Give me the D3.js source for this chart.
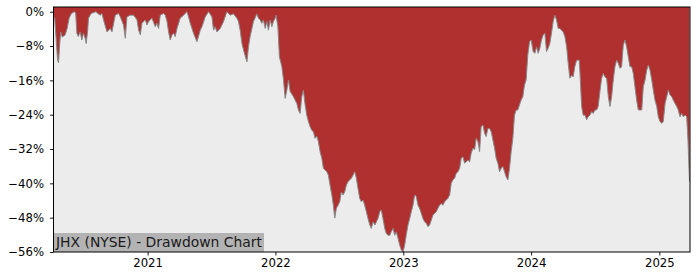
<!DOCTYPE html>
<html>
<head>
<meta charset="utf-8">
<script src="https://cdn.jsdelivr.net/npm/d3@7"></script>
<style>
  body { margin: 0; background: #fff; }
  text { font-family: "DejaVu Sans", sans-serif; }
</style>
</head>
<body>
<div id="chart"></div>
<script>
// JHX (NYSE) drawdown
// dates kept as decimal years, drawdown in percent
var timeline = [
  2020.266, 2020.275, 2020.287, 2020.298, 2020.305, 2020.314, 2020.322, 2020.334, 2020.357, 2020.373,
  2020.388, 2020.404, 2020.427, 2020.439, 2020.448, 2020.459, 2020.474, 2020.487, 2020.500, 2020.513,
  2020.521, 2020.533, 2020.539, 2020.560, 2020.597, 2020.615, 2020.630, 2020.644, 2020.656, 2020.683,
  2020.709, 2020.722, 2020.748, 2020.773, 2020.787, 2020.812, 2020.826, 2020.839, 2020.865, 2020.891,
  2020.917, 2020.930, 2020.943, 2020.956, 2020.982, 2020.995, 2021.008, 2021.034, 2021.060, 2021.073,
  2021.086, 2021.099, 2021.125, 2021.138, 2021.152, 2021.164, 2021.177, 2021.191, 2021.203, 2021.216,
  2021.230, 2021.255, 2021.281, 2021.308, 2021.320, 2021.334, 2021.359, 2021.386, 2021.412, 2021.425,
  2021.451, 2021.477, 2021.503, 2021.516, 2021.529, 2021.542, 2021.568, 2021.594, 2021.620, 2021.646,
  2021.672, 2021.698, 2021.711, 2021.724, 2021.738, 2021.750, 2021.777, 2021.789, 2021.802, 2021.828,
  2021.855, 2021.867, 2021.880, 2021.894, 2021.906, 2021.920, 2021.933, 2021.945, 2021.959, 2021.972,
  2021.984, 2021.998, 2022.005, 2022.019, 2022.031, 2022.050, 2022.063, 2022.076, 2022.089, 2022.102,
  2022.115, 2022.141, 2022.167, 2022.180, 2022.193, 2022.206, 2022.219, 2022.232, 2022.245, 2022.258,
  2022.271, 2022.284, 2022.297, 2022.310, 2022.323, 2022.336, 2022.349, 2022.363, 2022.375, 2022.402,
  2022.414, 2022.427, 2022.441, 2022.453, 2022.464, 2022.477, 2022.490, 2022.503, 2022.516, 2022.529,
  2022.542, 2022.555, 2022.568, 2022.594, 2022.607, 2022.620, 2022.633, 2022.646, 2022.659, 2022.672,
  2022.685, 2022.698, 2022.711, 2022.724, 2022.738, 2022.750, 2022.763, 2022.779, 2022.789, 2022.802,
  2022.816, 2022.828, 2022.841, 2022.855, 2022.867, 2022.880, 2022.894, 2022.906, 2022.920, 2022.933,
  2022.945, 2022.959, 2022.972, 2022.984, 2022.998, 2023.011, 2023.023, 2023.037, 2023.050, 2023.063,
  2023.076, 2023.089, 2023.102, 2023.115, 2023.127, 2023.141, 2023.154, 2023.167, 2023.180, 2023.193,
  2023.206, 2023.219, 2023.232, 2023.245, 2023.258, 2023.271, 2023.284, 2023.297, 2023.310, 2023.323,
  2023.336, 2023.349, 2023.363, 2023.375, 2023.388, 2023.402, 2023.414, 2023.427, 2023.441, 2023.453,
  2023.466, 2023.480, 2023.492, 2023.505, 2023.519, 2023.531, 2023.545, 2023.558, 2023.570, 2023.584,
  2023.597, 2023.609, 2023.623, 2023.636, 2023.648, 2023.662, 2023.675, 2023.688, 2023.701, 2023.714,
  2023.727, 2023.740, 2023.753, 2023.766, 2023.779, 2023.792, 2023.805, 2023.818, 2023.831, 2023.844,
  2023.857, 2023.870, 2023.883, 2023.896, 2023.909, 2023.922, 2023.935, 2023.948, 2023.961, 2023.974,
  2023.988, 2024.000, 2024.016, 2024.029, 2024.042, 2024.055, 2024.068, 2024.081, 2024.094, 2024.107,
  2024.120, 2024.133, 2024.146, 2024.159, 2024.172, 2024.185, 2024.198, 2024.211, 2024.224, 2024.250,
  2024.263, 2024.277, 2024.289, 2024.302, 2024.316, 2024.328, 2024.341, 2024.355, 2024.375, 2024.380,
  2024.394, 2024.406, 2024.420, 2024.433, 2024.445, 2024.459, 2024.472, 2024.484, 2024.498, 2024.511,
  2024.523, 2024.537, 2024.550, 2024.563, 2024.576, 2024.589, 2024.602, 2024.615, 2024.628, 2024.641,
  2024.654, 2024.667, 2024.680, 2024.693, 2024.706, 2024.719, 2024.732, 2024.745, 2024.758, 2024.771,
  2024.784, 2024.797, 2024.810, 2024.823, 2024.836, 2024.863, 2024.875, 2024.889, 2024.902, 2024.914,
  2024.927, 2024.941, 2024.953, 2024.966, 2024.980, 2024.992, 2025.005, 2025.019, 2025.031, 2025.045,
  2025.058, 2025.070, 2025.084, 2025.097, 2025.109, 2025.123, 2025.136, 2025.148, 2025.162, 2025.175,
  2025.188, 2025.201, 2025.214, 2025.224, 2025.236
];

var drawdown = [
  -1.2, -1.5, -6.6, -11.3, -11.9, -7.8, -4.7, -5.9, -5.4, -3.8,
  -1.5, -0.5, 0, -0.3, -5.0, -5.8, -4.7, -6.6, -5.0, -6.2,
  -7.4, -4.3, -1.5, -0.4, 0, -0.5, -0.8, -0.4, -1.9, -4.7,
  -3.9, -4.7, -0.8, -0.4, -1.2, -3.1, -6.2, -1.2, -0.8, -0.8,
  -1.9, -4.3, -5.4, -2.7, -1.9, -3.1, -2.3, -1.5, -3.5, -2.7,
  -3.9, -0.8, -0.4, -0.8, -2.3, -4.7, -6.6, -5.4, -5.0, -5.8,
  -3.9, -1.5, -0.8, 0, -1.2, -2.7, -5.0, -7.0, -4.3, -3.5,
  -1.2, 0, -1.2, -4.3, -3.5, -4.7, -3.9, -2.3, 0, -0.8,
  -0.5, -1.5, -2.3, -4.3, -7.4, -8.9, -11.7, -8.2, -5.8, -2.3,
  -0.5, -1.5, -1.9, -2.7, -1.9, -3.9, -2.3, -4.3, -1.9, -3.5,
  -2.3, -1.5, -0.8, -3.5, -10.5, -12.8, -15.9, -20.2, -18.3, -15.9,
  -18.6, -19.8, -21.4, -22.9, -23.7, -19.8, -18.3, -21.7, -24.1, -25.6,
  -26.8, -27.6, -28.0, -29.5, -29.0, -30.3, -32.6, -34.2, -36.5, -37.3,
  -38.1, -40.4, -42.7, -45.1, -48.1, -45.8, -45.1, -44.3, -42.0, -42.7,
  -42.0, -40.4, -39.6, -38.8, -38.1, -37.3, -38.8, -41.2, -43.5, -44.3,
  -43.9, -45.1, -46.6, -48.2, -49.7, -50.5, -49.0, -49.7, -49.0, -48.2,
  -46.6, -46.2, -48.2, -50.5, -51.7, -52.1, -52.1, -51.3, -50.5, -52.1,
  -51.3, -52.8, -54.4, -55.5, -56.0, -54.4, -52.1, -49.7, -48.2, -46.6,
  -45.1, -42.7, -43.1, -45.1, -45.8, -47.0, -48.2, -49.0, -49.3, -50.1,
  -49.7, -48.6, -47.4, -47.0, -46.6, -45.8, -45.1, -44.7, -45.1, -44.3,
  -43.9, -43.5, -42.7, -40.0, -39.2, -38.8, -37.7, -37.3, -36.5, -34.2,
  -33.8, -35.3, -35.0, -34.6, -35.0, -33.0, -31.8, -32.2, -29.5, -30.3,
  -32.6, -26.8, -26.4, -28.3, -29.1, -27.2, -27.2, -28.0, -29.9, -31.8,
  -34.2, -35.3, -37.3, -36.5, -36.1, -37.3, -38.5, -39.2, -36.5, -32.6,
  -29.5, -24.1, -22.9, -22.9, -21.7, -20.6, -19.8, -17.1, -15.9, -10.1,
  -7.0, -6.6, -9.3, -9.7, -8.2, -9.7, -8.5, -6.6, -5.4, -5.0,
  -9.3, -8.5, -7.4, -5.0, -2.3, -0.8, -1.9, -3.9, -3.9, -4.7,
  -5.8, -8.2, -12.0, -15.5, -14.8, -15.2, -12.8, -11.3, -11.3, -13.6,
  -22.1, -24.1, -24.1, -25.2, -24.5, -24.1, -23.3, -23.7, -22.9, -22.9,
  -22.1, -18.6, -15.5, -14.4, -15.2, -15.5, -19.8, -22.1, -19.8, -15.9,
  -12.8, -11.3, -12.0, -13.2, -12.8, -7.8, -6.6, -8.2, -10.5, -12.8,
  -12.8, -14.4, -17.5, -20.6, -22.9, -22.9, -17.5, -15.9, -13.6, -12.4,
  -13.6, -15.9, -18.3, -20.6, -22.1, -24.5, -25.6, -26.0, -25.6, -21.4,
  -19.8, -18.3, -19.4, -19.8, -20.6, -21.4, -22.1, -22.9, -24.5, -23.7,
  -24.5, -24.1, -24.5, -29.9, -39.6
];

var yTicks = [0, -8, -16, -24, -32, -40, -48, -56];
var xTickYears = [2021, 2022, 2023, 2024, 2025];
var chartLabel = "JHX (NYSE) - Drawdown Chart";

// decimal year -> Date
function yearToDate(y) {
    var yr = Math.floor(y);
    var start = new Date(yr, 0, 1), end = new Date(yr + 1, 0, 1);
    return new Date(+start + (y - yr) * (end - start));
}

function drawChart() {
    var data = timeline.map((t, i) => ({ date: yearToDate(t), dd: drawdown[i] }));

    var svg = d3.select("#chart").append("svg").attr("width", 700).attr("height", 280),
        plotLeft = 53.5, plotRight = 690, plotTop = 7, plotBottom = 252,
        x = d3.scaleTime()
              .domain([yearToDate(2020.266), yearToDate(2025.240)])
              .range([plotLeft, plotRight]),
        y = d3.scaleLinear().domain([-56, 1.1]).range([plotBottom, plotTop]);

    svg.append("defs").append("clipPath").attr("id", "plotclip")
      .append("rect")
        .attr("x", plotLeft).attr("y", plotTop)
        .attr("width", plotRight - plotLeft).attr("height", plotBottom - plotTop);

    // axes background
    svg.append("rect")
        .attr("x", plotLeft).attr("y", plotTop)
        .attr("width", plotRight - plotLeft).attr("height", plotBottom - plotTop)
        .attr("fill", "#ececec");

    var plot = svg.append("g").attr("clip-path", "url(#plotclip)");

    // red area between the top of the axes and the drawdown line
    plot.append("path")
        .datum(data)
        .attr("fill", "#b03030")
        .attr("d", d3.area()
            .x(d => x(d.date))
            .y0(y(1.1))
            .y1(d => y(d.dd)));

    plot.append("path")
        .datum(data)
        .attr("fill", "none")
        .attr("stroke", "#888")
        .attr("stroke-width", 1)
        .attr("d", d3.line().x(d => x(d.date)).y(d => y(d.dd)));

    // label box in lower left
    var lbl = svg.append("g");
    lbl.append("rect")
        .attr("x", plotLeft).attr("y", 233)
        .attr("width", 210.5).attr("height", plotBottom - 233)
        .attr("fill", "#b3b3b3");
    lbl.append("text")
        .attr("x", plotLeft + 2.5).attr("y", 247)
        .style("font-size", "13.9px")
        .attr("fill", "#1a1a1a")
        .text(chartLabel);

    // axes
    var yAxis = svg.append("g")
        .attr("transform", `translate(${plotLeft},0)`)
        .call(d3.axisLeft(y).tickValues(yTicks).tickSize(3.5).tickPadding(6)
            .tickFormat(d => d3.format("d")(d) + "%"));

    var xAxis = svg.append("g")
        .attr("transform", `translate(0,${plotBottom})`)
        .call(d3.axisBottom(x).tickValues(xTickYears.map(v => new Date(v, 0, 1)))
            .tickSize(3.5).tickPadding(3.5)
            .tickFormat(d3.timeFormat("%Y")));

    [yAxis, xAxis].forEach(a => {
        a.select(".domain").remove();
        a.selectAll("text")
            .style("font-size", "11.7px")
            .style("font-family", "DejaVu Sans")
            .attr("fill", "#000");
        a.selectAll("line").attr("stroke", "#000").attr("stroke-width", 0.9);
    });

    // frame
    svg.append("rect")
        .attr("x", plotLeft).attr("y", plotTop)
        .attr("width", plotRight - plotLeft).attr("height", plotBottom - plotTop)
        .attr("fill", "none")
        .attr("stroke", "#000")
        .attr("stroke-width", 1);
}

drawChart();
</script>
</body>
</html>
